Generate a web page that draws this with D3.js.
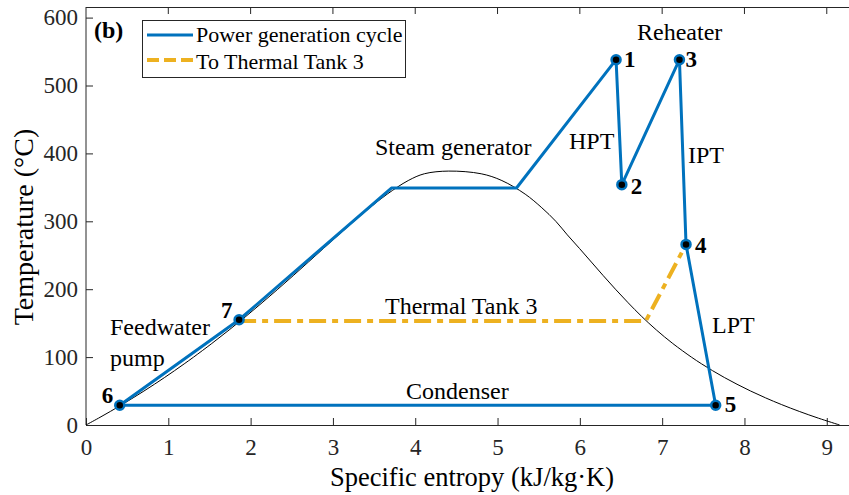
<!DOCTYPE html>
<html><head><meta charset="utf-8">
<script src="https://cdn.jsdelivr.net/npm/d3@7"></script>
<style>body{margin:0;background:#fff}svg{display:block}text{font-family:"Liberation Serif","Times New Roman",serif}</style>
</head><body><svg id="c" width="849" height="495"></svg>
<script>
// Saturation dome (steam tables): temperature, liquid entropy, vapor entropy
const satT  = [0.01,10,20,30,40,50,60,70,80,90,100,120,140,160,180,200,220,240,260,280,300,320,340,360,370,373.95];
const satSf = [0,0.1511,0.2965,0.4368,0.5724,0.7038,0.8313,0.9551,1.0756,1.1929,1.3072,1.5279,1.7392,1.9426,2.1392,2.3305,2.5177,2.7020,2.8849,3.0685,3.2552,3.4480,3.6594,3.9147,4.1106,4.4070];
const satSg = [9.1556,8.8999,8.6661,8.4520,8.2557,8.0753,7.9096,7.7553,7.6122,7.4791,7.3549,7.1292,6.9294,6.7502,6.5867,6.4322,6.2840,6.1400,5.9956,5.8479,5.7081,5.5373,5.3357,5.0526,4.8013,4.4070];
// Power generation cycle path
const cycleS = [0.41,1.86,3.71,5.23,6.44,6.51,7.21,7.29,7.65,0.41];
const cycleT = [29,155,349,349,538,354,538,266,29,29];
// Extraction to Thermal Tank 3
const tankS = [1.86,6.80,7.29];
const tankT = [153,153,266];
// State points
const ptLabel = ["1","2","3","4","5","6","7"];
const ptS = [6.44,6.51,7.21,7.29,7.65,0.41,1.86];
const ptT = [538,354,538,266,29,29,155];
const xTicks = [0,1,2,3,4,5,6,7,8,9];
const yTicks = [0,100,200,300,400,500,600];

const svg = d3.select("#c");
const x = d3.scaleLinear().domain([0,9.27]).range([86,849]);
const y = d3.scaleLinear().domain([0,600]).range([425,17.6]);
const yTop = 7;
const blue = "#0072BD", orange = "#EDB120", axc = "#262626";

// axes box
svg.append("line").attr("x1",86).attr("x2",849).attr("y1",yTop+0.5).attr("y2",yTop+0.5).attr("stroke",axc).attr("stroke-width",1);
const xa = svg.append("g").attr("transform","translate(0,425)")
  .call(d3.axisBottom(x).tickValues(xTicks).tickFormat(d3.format("d")).tickSizeInner(-7).tickSizeOuter(0).tickPadding(14));
const ya = svg.append("g").attr("transform","translate(86,0)")
  .call(d3.axisLeft(y).tickValues(yTicks).tickSizeInner(-7).tickSizeOuter(0).tickPadding(8));
ya.select(".domain").attr("d","M0,"+yTop+"V425");
[xa,ya].forEach(a=>{a.selectAll("path,line").attr("stroke",axc);
  a.selectAll("text").attr("font-size",23).attr("fill",axc).style("font-family","Liberation Serif");});
// top ticks
svg.selectAll(".tt").data(xTicks.slice(1)).enter().append("line")
  .attr("x1",d=>x(d)).attr("x2",d=>x(d)).attr("y1",yTop).attr("y2",yTop+7).attr("stroke",axc);

// dome
const dome = satT.map((t,i)=>[satSf[i],t]).concat(satT.map((t,i)=>[satSg[i],t]).reverse().slice(1));
svg.append("path").attr("d",d3.line().x(d=>x(d[0])).y(d=>y(d[1])).curve(d3.curveCatmullRom)(dome))
  .attr("fill","none").attr("stroke","#000").attr("stroke-width",1);

const lin = d3.line().x(d=>x(d[0])).y(d=>y(d[1]));
svg.append("path").attr("d",lin(tankS.map((s,i)=>[s,tankT[i]]))).attr("fill","none").attr("stroke",orange).attr("stroke-width",4).attr("stroke-dasharray","17,6,6,6");
svg.append("path").attr("d",lin(cycleS.map((s,i)=>[s,cycleT[i]]))).attr("fill","none").attr("stroke",blue).attr("stroke-width",3).attr("stroke-linejoin","round");

// markers
svg.selectAll(".pt").data(ptS).enter().append("circle")
  .attr("cx",d=>x(d)).attr("cy",(d,i)=>y(ptT[i])).attr("r",4.5)
  .attr("fill","#000").attr("stroke",blue).attr("stroke-width",2.5);

// point labels
const lblOff = [[8,7],[9,9],[6,7],[9,9],[9,7],[-18,-2],[-18,-2]];
svg.selectAll(".pl").data(ptLabel).enter().append("text")
  .attr("x",(d,i)=>x(ptS[i])+lblOff[i][0]).attr("y",(d,i)=>y(ptT[i])+lblOff[i][1])
  .attr("font-size",23).attr("font-weight","bold").text(d=>d);

// annotations
const ann = [["Reheater",637,40],["HPT",569,149],["IPT",688,163],["Steam generator",375,155],
  ["Feedwater",110,335],["pump",110,366],["Thermal Tank 3",385,314],["Condenser",406,399],["LPT",712,333]];
svg.selectAll(".an").data(ann).enter().append("text").attr("x",d=>d[1]).attr("y",d=>d[2])
  .attr("font-size",24).attr("fill","#000").text(d=>d[0]);
svg.append("text").attr("x",94).attr("y",38).attr("font-size",24).attr("font-weight","bold").text("(b)");

// legend
const lg = svg.append("g");
lg.append("rect").attr("x",142.5).attr("y",20.5).attr("width",263).attr("height",57).attr("fill","#fff").attr("stroke",axc).attr("stroke-width",1);
lg.append("line").attr("x1",147).attr("x2",193).attr("y1",35).attr("y2",35).attr("stroke",blue).attr("stroke-width",3);
lg.append("line").attr("x1",147).attr("x2",193).attr("y1",60).attr("y2",60).attr("stroke",orange).attr("stroke-width",4).attr("stroke-dasharray","12,5");
lg.append("text").attr("x",196).attr("y",42).attr("font-size",22).text("Power generation cycle");
lg.append("text").attr("x",196).attr("y",69).attr("font-size",22).text("To Thermal Tank 3");

// axis titles
svg.append("text").attr("x",472).attr("y",486).attr("text-anchor","middle").attr("font-size",26.5).text("Specific entropy (kJ/kg·K)");
svg.append("text").attr("transform","translate(33,227) rotate(-90)").attr("text-anchor","middle").attr("font-size",28).text("Temperature (°C)");
</script></body></html>
